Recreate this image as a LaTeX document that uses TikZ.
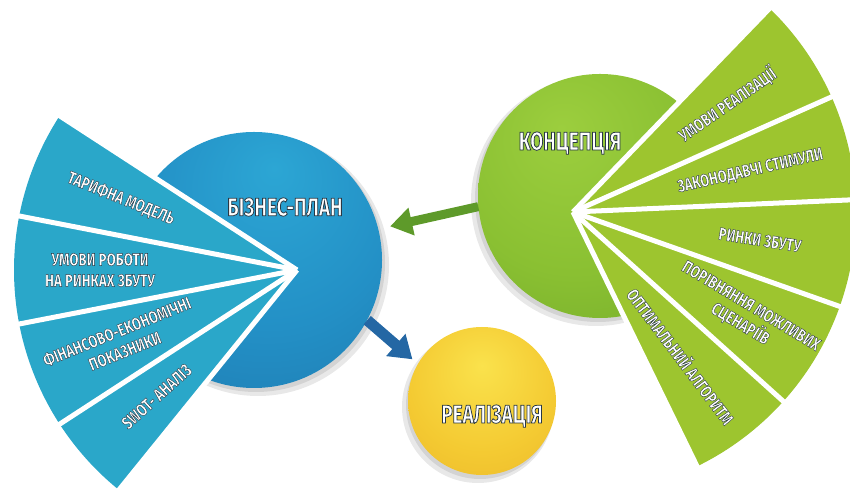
\documentclass[tikz,border=0pt]{standalone}
\usepackage{fontspec}
\newfontfamily\fanfont{Fira Sans}[FakeStretch=0.76, BoldFeatures={FakeBold=2.2}]
\newfontfamily\ballfont{Fira Sans}[FakeStretch=0.74, BoldFeatures={FakeBold=3}]
\usetikzlibrary{arrows.meta,calc}

\definecolor{fanblue}{HTML}{2AA7C9}
\definecolor{fangreen}{HTML}{9DC52F}
\definecolor{arrowgreen}{HTML}{5E9A2A}
\definecolor{arrowblue}{HTML}{2467A4}

% sphere-like fills for the three balls
\pgfdeclareradialshading{blueball}{\pgfpoint{4bp}{18bp}}{%
  color(0bp)=(rgb,255:red,44;green,166;blue,212);
  color(25bp)=(rgb,255:red,35;green,144;blue,198);
  color(50bp)=(rgb,255:red,30;green,118;blue,172);
  color(72bp)=(rgb,255:red,22;green,76;blue,128)}
\pgfdeclareradialshading{greenball}{\pgfpoint{-8bp}{14bp}}{%
  color(0bp)=(rgb,255:red,156;green,206;blue,62);
  color(25bp)=(rgb,255:red,138;green,192;blue,50);
  color(50bp)=(rgb,255:red,110;green,166;blue,40);
  color(72bp)=(rgb,255:red,76;green,130;blue,28)}
\pgfdeclareradialshading{yellowball}{\pgfpoint{0bp}{12bp}}{%
  color(0bp)=(rgb,255:red,250;green,226;blue,76);
  color(25bp)=(rgb,255:red,244;green,202;blue,50);
  color(50bp)=(rgb,255:red,232;green,176;blue,38);
  color(68bp)=(rgb,255:red,212;green,148;blue,30)}

% white lettering, its strokes edged in dark grey
\newcommand\shtext[1]{\special{pdf:code 0.16 0.22 0.27 RG}#1}

\begin{document}
\begin{tikzpicture}[x=1pt,y=1pt,
  ballnode/.style={circle, inner sep=0pt, minimum size=#1},
  fanlabel/.style={text=white, font=\fanfont\bfseries\fontsize{17.5}{21}\selectfont,
    align=center, inner sep=0pt},
  mainlabel/.style={text=white, font=\ballfont\bfseries\fontsize{25.5}{29}\selectfont,
    inner sep=0pt},
  septline/.style={white, line width=5pt},
  ballshadow/.style={black, opacity=0.09}]

\useasboundingbox (0,0) rectangle (850,502);
\clip (0,0) rectangle (850,502);

% fan apexes
\coordinate (L) at (297,232);
\coordinate (R) at (573,290);

% soft shadows under the balls
\fill[ballshadow] (258,237) circle[radius=131];
\fill[ballshadow] (256,239) circle[radius=129];
\fill[ballshadow] (596,301) circle[radius=125];
\fill[ballshadow] (598,303) circle[radius=123];
\fill[ballshadow] (478,95) circle[radius=76];
\fill[ballshadow] (480,97) circle[radius=74];

% balls
\node[ballnode=256pt, shading=blueball] (plan) at (254,242) {};
\node[ballnode=244pt, shading=greenball] (concept) at (600,306) {};
\node[ballnode=148pt, shading=yellowball] (real) at (482,101) {};

% arrows between the balls
\draw[arrowgreen, line width=9pt, -{Triangle[width=27pt,length=22pt]}, shorten >=12pt]
  (concept.185) -- (plan.14);
\draw[arrowblue, line width=11pt, -{Triangle[width=28pt,length=22pt]}, shorten >=7pt]
  (plan.-28) -- (real.150);

% left fan
\foreach \a/\b in {147/169,169/191,191/213,213/231}
  \fill[fanblue] (L) -- ++(\a:283) arc[start angle=\a, end angle=\b, radius=283] -- cycle;
\foreach \a in {147,169,191,213,231}
  \draw[septline] (L) -- ++(\a:286);

% right fan
\foreach \a/\b in {46/24,24/2.5,2.5/-19.5,-19.5/-42,-42/-64}
  \fill[fangreen] (R) -- ++(\a:283) arc[start angle=\a, end angle=\b, radius=283] -- cycle;
\foreach \a in {46,24,2.5,-19.5,-42,-64}
  \draw[septline] (R) -- ++(\a:286);

% ball captions
\node[mainlabel] (tplan) at (285,295) {\shtext{БІЗНЕС-ПЛАН}};
\node[mainlabel] (tconcept) at (570,359) {\shtext{КОНЦЕПЦІЯ}};
\node[mainlabel] (treal) at (492,86) {\shtext{РЕАЛІЗАЦІЯ}};

% left fan captions
\node[fanlabel, rotate=-22] (l1) at ($(L)+(158:190)$) {\shtext{ТАРИФНА МОДЕЛЬ}};
\node[fanlabel] (l2) at ($(L)+(180:197)$) {\shtext{УМОВИ РОБОТИ}\\\shtext{НА РИНКАХ ЗБУТУ}};
\node[fanlabel, rotate=22] (l3) at ($(L)+(202:190)$) {\shtext{ФІНАНСОВО-ЕКОНОМІЧНІ}\\\shtext{ПОКАЗНИКИ}};
\node[fanlabel, rotate=42] (l4) at ($(L)+(222:189)$) {\shtext{SWOT- АНАЛІЗ}};

% right fan captions
\node[fanlabel, rotate=35] (r1) at ($(R)+(35:188)$) {\shtext{УМОВИ РЕАЛІЗАЦІЇ}};
\node[fanlabel, rotate=13] (r2) at ($(R)+(13:182)$) {\shtext{ЗАКОНОДАВЧІ СТИМУЛИ}};
\node[fanlabel, rotate=-9] (r3) at ($(R)+(-8.5:189)$) {\shtext{РИНКИ ЗБУТУ}};
\node[fanlabel, rotate=-31] (r4) at ($(R)+(-31:201)$) {\shtext{ПОРІВНЯННЯ МОЖЛИВИХ}\\\shtext{СЦЕНАРІЇВ}};
\node[fanlabel, rotate=-53] (r5) at ($(R)+(-53:180)$) {\shtext{ОПТИМАЛЬНИЙ АЛГОРИТМ}};
\end{tikzpicture}
\end{document}
